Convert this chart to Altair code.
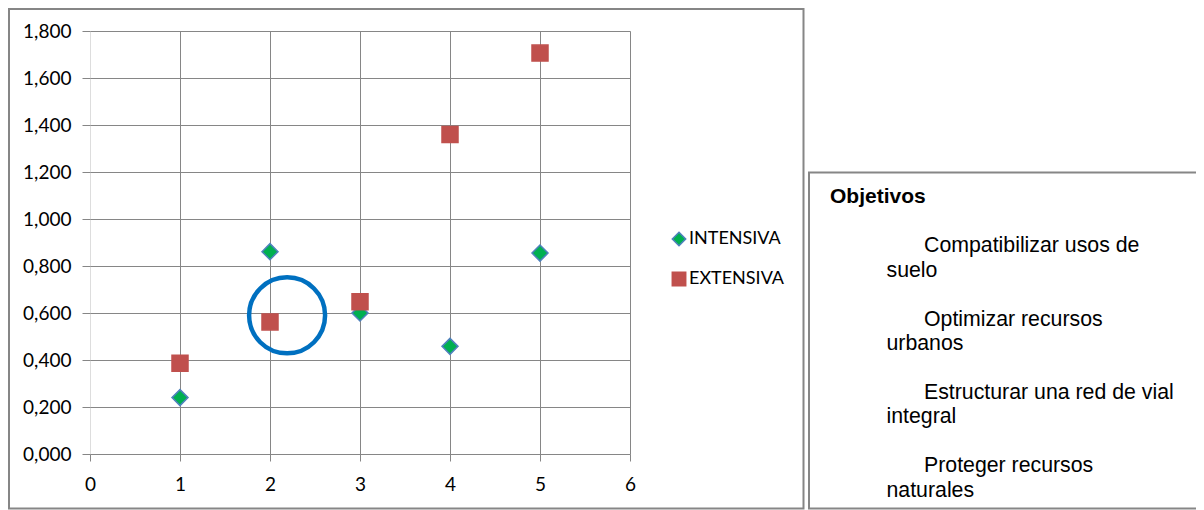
import altair as alt
import pandas as pd

# ---- data ----
x_vals = [1, 2, 3, 4, 5]
intensiva = [0.240, 0.861, 0.600, 0.458, 0.855]
extensiva = [0.386, 0.562, 0.648, 1.360, 1.706]
series_names = ["INTENSIVA", "EXTENSIVA"]
series_fill = ["#00B050", "#C0504D"]
series_stroke = ["#4F81BD", "#C0504D"]
series_shape = ["diamond", "square"]

x_ticks = [0, 1, 2, 3, 4, 5, 6]
y_ticks = [0.0, 0.2, 0.4, 0.6, 0.8, 1.0, 1.2, 1.4, 1.6, 1.8]

# highlight circle (annotation)
circle_x = [2.19]
circle_y = [0.59]

box_title = "Objetivos"
objetivos = [
    ["Compatibilizar usos de", "suelo"],
    ["Optimizar recursos", "urbanos"],
    ["Estructurar una red de vial", "integral"],
    ["Proteger recursos", "naturales"],
]

# ---- tables ----
rows = []
for name, vals in zip(series_names, [intensiva, extensiva]):
    for xv, yv in zip(x_vals, vals):
        rows.append({"x": xv, "y": yv, "serie": name})
points_df = pd.DataFrame(rows)
circle_df = pd.DataFrame({"x": circle_x, "y": circle_y})

GRID = "#868686"
FONT = "Lato"

xs = alt.Scale(domain=[0, 6], nice=False, zero=False)
ys = alt.Scale(domain=[0, 1.8], nice=False)

x_axis = alt.Axis(values=x_ticks, grid=True, gridColor=GRID, gridWidth=1,
                  gridOpacity=alt.condition("datum.value == 0", alt.value(0), alt.value(1)),
                  tickSize=7, tickColor=GRID, domain=False, labelFont=FONT,
                  labelFontSize=19, labelColor="#000000", labelPadding=14,
                  labelFlush=False, format="d", title=None)
y_axis = alt.Axis(values=y_ticks, grid=True, gridColor=GRID, gridWidth=1,
                  tickSize=8, tickColor=GRID, domain=False, labelFont=FONT,
                  labelFontSize=19, labelColor="#000000", labelPadding=11,
                  labelFlush=False,
                  labelExpr="replace(format(datum.value, '.3f'), '.', ',')",
                  title=None)

legend = alt.Legend(title=None, orient="none", legendX=580, legendY=199,
                    labelFont=FONT, labelFontSize=18, labelColor="#000000",
                    symbolSize=180, symbolStrokeWidth=1.5, rowPadding=20,
                    labelOffset=1, padding=0)

one = alt.Data(values=[{}])

frame = alt.Chart(one).mark_rect(fillOpacity=0, stroke=GRID, strokeWidth=2).encode(
    x=alt.value(-81), x2=alt.value(713.5), y=alt.value(-22), y2=alt.value(477.5))

box = alt.Chart(one).mark_rect(fillOpacity=0, stroke=GRID, strokeWidth=2).encode(
    x=alt.value(719), x2=alt.value(1125), y=alt.value(141.5), y2=alt.value(477.5))

points = alt.Chart(points_df).mark_point(filled=True, size=256, strokeWidth=1.5, opacity=1).encode(
    x=alt.X("x:Q", scale=xs, axis=x_axis),
    y=alt.Y("y:Q", scale=ys, axis=y_axis),
    fill=alt.Fill("serie:N", scale=alt.Scale(domain=series_names, range=series_fill), legend=legend),
    stroke=alt.Stroke("serie:N", scale=alt.Scale(domain=series_names, range=series_stroke), legend=legend),
    shape=alt.Shape("serie:N", scale=alt.Scale(domain=series_names, range=series_shape), legend=legend),
)

circle = alt.Chart(circle_df).mark_point(shape="circle", filled=False, size=5776,
                                          strokeWidth=4.5, color="#0070C0", opacity=1).encode(
    x=alt.X("x:Q", scale=xs), y=alt.Y("y:Q", scale=ys))

texts = [alt.Chart(one).mark_text(
    text=box_title, font="Liberation Sans", fontSize=21, fontWeight="bold",
    align="left", baseline="alphabetic", color="#000000").encode(
    x=alt.value(740), y=alt.value(171.7))]
for i, (first, second) in enumerate(objetivos):
    for j, line in enumerate([first, second]):
        texts.append(alt.Chart(one).mark_text(
            text=line, font="Liberation Sans", fontSize=21.3, align="left",
            baseline="alphabetic", color="#000000").encode(
            x=alt.value(834 if j == 0 else 796.5),
            y=alt.value(221.3 + i * 73.3 + j * 24.4)))

chart = alt.layer(frame, box, points, circle, *texts).properties(
    width=540, height=423,
    autosize=alt.AutoSizeParams(type="none"),
    padding={"left": 82, "top": 23, "right": 566, "bottom": 56},
).configure_view(strokeWidth=0).configure(background="white")

chart.save("out.html", embed_options={"renderer": "svg", "actions": False})
